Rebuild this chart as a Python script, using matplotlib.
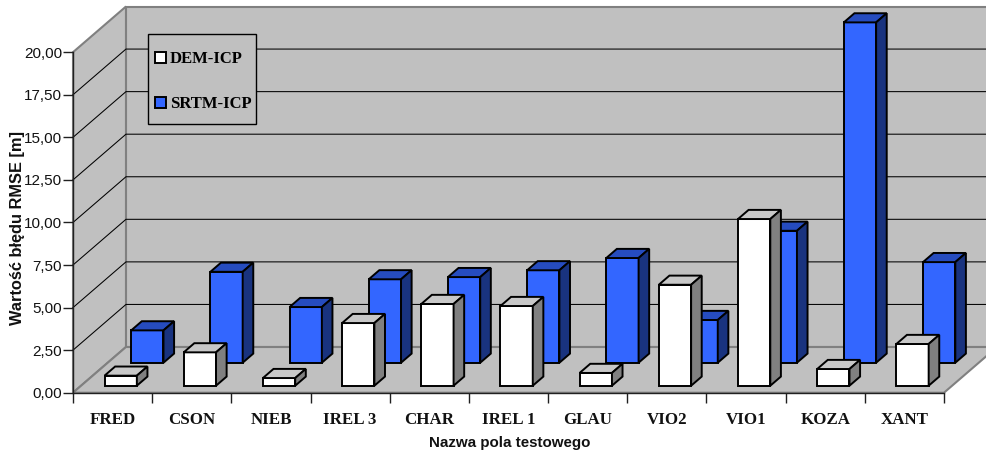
import matplotlib
matplotlib.use("Agg")
import matplotlib.pyplot as plt
from matplotlib.patches import Polygon, Patch, Rectangle

# ====================== DATA ======================
FIELDS = ["FRED", "CSON", "NIEB", "IREL 3", "CHAR", "IREL 1", "GLAU", "VIO2", "VIO1", "KOZA", "XANT"]
DEM_ICP = [0.59, 1.96, 0.45, 3.68, 4.80, 4.68, 0.75, 5.93, 9.79, 0.98, 2.45]
SRTM_ICP = [1.90, 5.34, 3.27, 4.90, 5.03, 5.43, 6.15, 2.51, 7.75, 19.99, 5.91]
Y_TICKS = [0, 2.5, 5, 7.5, 10, 12.5, 15, 17.5, 20]

# ====================== 3D LOOK ======================
# oblique offset of the back wall, in x units and y units
DEPTH_X = 0.669
DEPTH_Y = 2.684
BAR_WIDTH = 0.408
BAR_GAP = 0.296
BAR_DEPTH = 0.2
WHITE_Z = 0.153
BLUE_Z = 0.656

WALL = "#C0C0C0"
EDGE_GRAY = "#808080"
WHITE_COLORS = ("#FFFFFF", "#C8C8C8", "#808080")
BLUE_COLORS = ("#3366FF", "#264CBF", "#19337F")

plt.rcParams["font.family"] = ["Liberation Sans", "DejaVu Sans"]
SERIF = "Liberation Serif"


def proj(x, y, z):
    return (x + z * DEPTH_X, y + z * DEPTH_Y)


def face(ax, pts, color, edge="black", lw=1.4, zorder=3):
    ax.add_patch(Polygon(pts, closed=True, facecolor=color, edgecolor=edge,
                         linewidth=lw, joinstyle="miter", clip_on=False, zorder=zorder))


def draw_bar(ax, i, value, z, colors, zorder):
    x0 = i + BAR_GAP
    x1 = x0 + BAR_WIDTH
    z1 = z + BAR_DEPTH
    front, top, side = colors
    face(ax, [proj(x0, 0, z), proj(x1, 0, z), proj(x1, value, z), proj(x0, value, z)], front, zorder=zorder)
    face(ax, [proj(x0, value, z), proj(x1, value, z), proj(x1, value, z1), proj(x0, value, z1)], top, zorder=zorder)
    face(ax, [proj(x1, 0, z), proj(x1, 0, z1), proj(x1, value, z1), proj(x1, value, z)], side, zorder=zorder)


W, H = 986, 454
fig = plt.figure(figsize=(W / 100, H / 100), dpi=100, facecolor="white")
ax = fig.add_axes([73 / W, (H - 392.7) / H, 871 / W, 340.5 / H])
ax.patch.set_visible(False)
n = len(FIELDS)
ax.set_xlim(0, n)
ax.set_ylim(0, 20)

# walls and floor
face(ax, [proj(0, 0, 1), proj(n + 1, 0, 1), proj(n + 1, 20, 1), proj(0, 20, 1)], WALL, edge=EDGE_GRAY, lw=1.5, zorder=1)
face(ax, [proj(0, 0, 0), proj(0, 0, 1), proj(0, 20, 1), proj(0, 20, 0)], WALL, edge=EDGE_GRAY, lw=1.5, zorder=1)
face(ax, [proj(0, 0, 0), proj(n, 0, 0), proj(n, 0, 1), proj(0, 0, 1)], WALL, edge=EDGE_GRAY, lw=1.5, zorder=1)

# gridlines run along the side wall and across the back wall
for v in Y_TICKS[1:-1]:
    pts = [proj(0, v, 0), proj(0, v, 1), proj(n + 1, v, 1)]
    line, = ax.plot([p[0] for p in pts], [p[1] for p in pts], color="black", lw=0.75,
                    clip_on=False, zorder=2)
    line.set_snap(False)

for i, srtm in enumerate(SRTM_ICP):
    draw_bar(ax, i, srtm, BLUE_Z, BLUE_COLORS, 3)
for i, dem in enumerate(DEM_ICP):
    draw_bar(ax, i, dem, WHITE_Z, WHITE_COLORS, 4)

# axes
for name in ("top", "right"):
    ax.spines[name].set_visible(False)
for name in ("left", "bottom"):
    ax.spines[name].set_color("#202020")
    ax.spines[name].set_linewidth(1.0)
    ax.spines[name].set_zorder(2.5)

ax.set_yticks(Y_TICKS)
ax.set_yticklabels([f"{v:.2f}".replace(".", ",") for v in Y_TICKS], fontsize=11, color="#111111")
ax.tick_params(axis="y", length=7, width=1.0, pad=1, color="#202020")
ax.set_xticks(range(n + 1))
ax.set_xticklabels([])
ax.set_xticks([i + 0.5 for i in range(n)], minor=True)
ax.set_xticklabels(FIELDS, minor=True, fontfamily=SERIF, fontweight="bold", fontsize=12.2, color="#111111")
ax.tick_params(axis="x", which="major", length=7, width=1.0, color="#202020")
ax.tick_params(axis="x", which="minor", length=0, pad=14)

fig.text(510 / W, 1 - 443 / H, "Nazwa pola testowego", ha="center", va="center",
         fontweight="bold", fontsize=10.9, color="#111111")
fig.text(18 / W, 1 - 228 / H, "Wartość błędu RMSE [m]", ha="center", va="center", rotation=90,
         fontweight="bold", fontsize=11.8, color="#111111")

# legend box is a fixed size, entries sit inside it
ax.add_patch(Rectangle((147.5 / W, 1 - 124.3 / H), 108.2 / W, 89.8 / H, transform=fig.transFigure,
                       facecolor=WALL, edgecolor="black", linewidth=1.0, clip_on=False, zorder=4.9))
handles = [Patch(facecolor=WHITE_COLORS[0], edgecolor="black", linewidth=1.4),
           Patch(facecolor=BLUE_COLORS[0], edgecolor="black", linewidth=1.4)]
leg = ax.legend(handles, ["DEM-ICP", "SRTM-ICP"], loc="upper left",
                bbox_to_anchor=(155 / W, 1 - 51 / H), bbox_transform=fig.transFigure,
                prop={"family": SERIF, "weight": "bold", "size": 12},
                frameon=False, handlelength=0.66, handleheight=0.66, handletextpad=0.24,
                labelspacing=1.74, borderpad=0, borderaxespad=0)
leg.set_zorder(5)

fig.savefig("out.png", dpi=100)
plt.close(fig)
